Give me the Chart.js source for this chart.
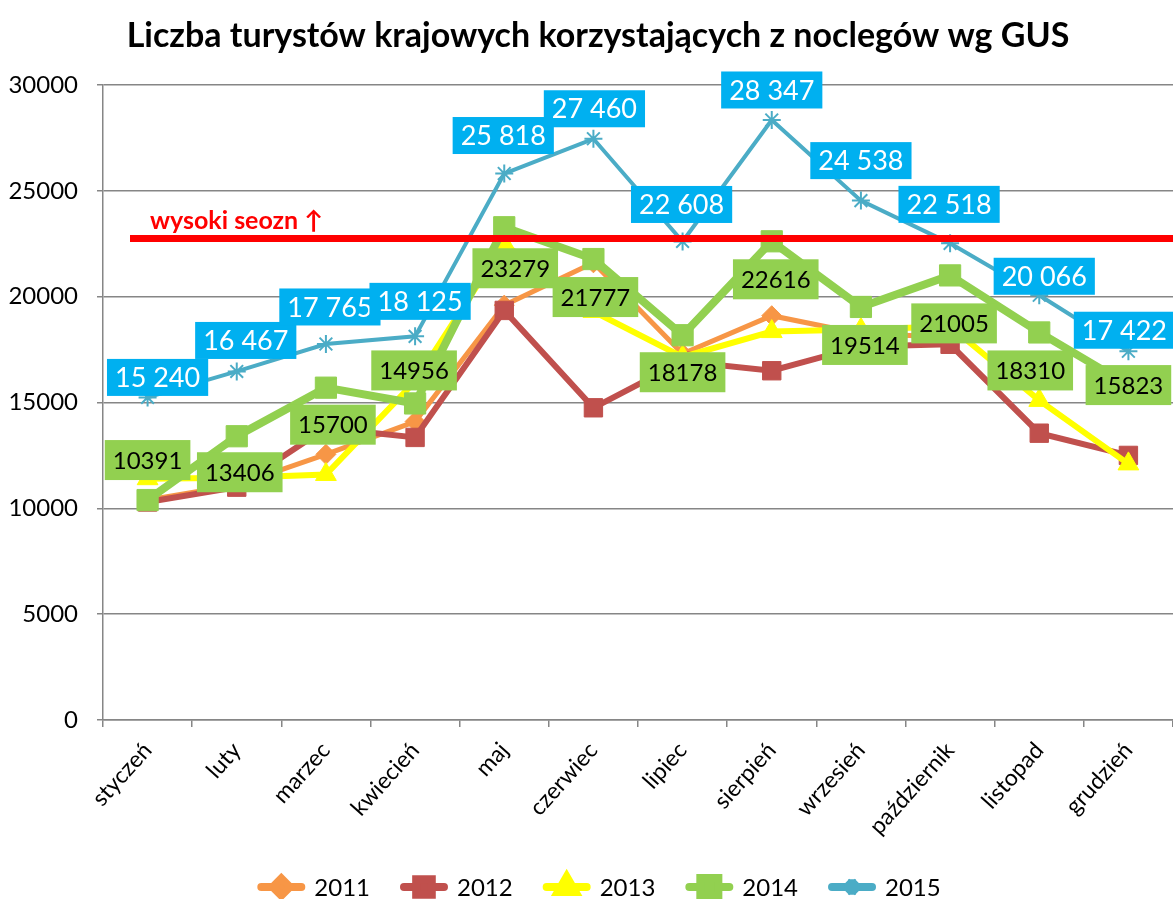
<!DOCTYPE html>
<html>
<head>
<meta charset="utf-8">
<script src="https://cdn.jsdelivr.net/npm/chart.js@4.4.1/dist/chart.umd.min.js"></script>
<style>
  html, body { margin: 0; padding: 0; background: #ffffff; overflow: hidden; }
  #wrap { width: 1173px; height: 899px; position: relative; }
  #c { display: block; }
</style>
</head>
<body>
<div id="wrap"><canvas id="c"></canvas></div>
<script>
// ---------- data ----------
const chartTitle = 'Liczba turystów krajowych korzystających z noclegów wg GUS';
const months = ['styczeń', 'luty', 'marzec', 'kwiecień', 'maj', 'czerwiec', 'lipiec', 'sierpień', 'wrzesień', 'październik', 'listopad', 'grudzień'];
const seriesNames = ['2011', '2012', '2013', '2014', '2015'];
const values2011 = [10400, 11100, 12550, 14100, 19600, 21600, 17300, 19100, 18250, 18100, null, null];
const values2012 = [10300, 11000, 13800, 13350, 19350, 14750, 16950, 16500, 17650, 17750, 13550, 12500];
const values2013 = [11400, 11450, 11600, 16000, 22500, 19300, 17150, 18350, 18450, 18600, 15100, 12100];
const values2014 = [10391, 13406, 15700, 14956, 23279, 21777, 18178, 22616, 19514, 21005, 18310, 15823];
const values2015 = [15240, 16467, 17765, 18125, 25818, 27460, 22608, 28347, 24538, 22518, 20066, 17422];
const yAxisTicks = [0, 5000, 10000, 15000, 20000, 25000, 30000];
const highSeasonThreshold = 22750;
const highSeasonLabel = 'wysoki seozn ↑';

// ---------- styling / label placement (pixels, not data) ----------
const FONT = 'Lato, "Open Sans", "DejaVu Sans", sans-serif';
const label2014Offsets = {
  dx: [0, 3, 7, -1, 11, 2, 0, 4, 4, 4, -9, 0],
  dy: [-40, 36, 37, -33, 41, 38, 37, 38, 38, 48, 38, 0]
};
const label2015Offsets = {
  dx: [10, 9, 4, 5, -1, 1, -1, 0, 0, -1, 5, -4],
  dy: [-20, -31, -37, -35, -38, -30, -37, -30, -40, -39, -19, -21]
};

function fmtSpaced(v) {
  return String(v).replace(/\B(?=(\d{3})+(?!\d))/g, ' ');
}

const titlePlugin = {
  id: 'customTitle',
  afterDraw(chart, args, opts) {
    const ctx = chart.ctx;
    ctx.save();
    ctx.font = 'bold 34px ' + FONT;
    ctx.fillStyle = '#000000';
    ctx.textAlign = 'center';
    ctx.textBaseline = 'middle';
    ctx.fillText(chartTitle, opts.x, opts.y);
    ctx.restore();
  }
};

const thresholdPlugin = {
  id: 'threshold',
  afterDatasetsDraw(chart) {
    const ctx = chart.ctx;
    const y = chart.scales.y.getPixelForValue(highSeasonThreshold);
    const a = chart.chartArea;
    ctx.save();
    ctx.strokeStyle = '#FF0000';
    ctx.lineWidth = 7;
    ctx.beginPath();
    ctx.moveTo(a.left + 27, y);
    ctx.lineTo(a.right, y);
    ctx.stroke();
    ctx.fillStyle = '#FF0000';
    ctx.font = 'bold 25px ' + FONT;
    ctx.textAlign = 'left';
    ctx.textBaseline = 'alphabetic';
    ctx.fillText(highSeasonLabel, a.left + 47, y - 9);
    ctx.restore();
  }
};

const boxLabelPlugin = {
  id: 'boxLabels',
  afterDatasetsDraw(chart, args, opts) {
    const ctx = chart.ctx;
    (opts.sets || []).forEach(cfg => {
      const meta = chart.getDatasetMeta(cfg.datasetIndex);
      const ds = chart.data.datasets[cfg.datasetIndex];
      ctx.save();
      ctx.font = cfg.font;
      ctx.textAlign = 'center';
      ctx.textBaseline = 'middle';
      meta.data.forEach((pt, i) => {
        const v = ds.data[i];
        if (v == null) return;
        const text = cfg.format(v);
        const w = ctx.measureText(text).width + 2 * cfg.padX;
        const h = cfg.height;
        const cx = pt.x + cfg.dx[i];
        const cy = pt.y + cfg.dy[i];
        ctx.fillStyle = cfg.bg;
        ctx.fillRect(cx - w / 2, cy - h / 2, w, h);
        ctx.fillStyle = cfg.color;
        ctx.fillText(text, cx, cy + 1);
      });
      ctx.restore();
    });
  }
};

const legendPlugin = {
  id: 'customLegend',
  afterDraw(chart, args, opts) {
    const ctx = chart.ctx;
    ctx.save();
    ctx.font = '24px ' + FONT;
    ctx.textBaseline = 'middle';
    ctx.textAlign = 'left';
    const lineLen = 48, gapText = 9, gapItem = 30;
    const dsets = chart.data.datasets;
    const widths = dsets.map(d => lineLen + gapText + ctx.measureText(d.label).width);
    const total = widths.reduce((s, w) => s + w, 0) + gapItem * (dsets.length - 1);
    let x = opts.centerX - total / 2;
    const y = opts.y;
    dsets.forEach((d, i) => {
      ctx.strokeStyle = d.borderColor;
      ctx.lineWidth = 8;
      ctx.lineCap = 'round';
      ctx.beginPath();
      ctx.moveTo(x + 4, y);
      ctx.lineTo(x + lineLen - 4, y);
      ctx.stroke();
      ctx.fillStyle = d.pointBackgroundColor;
      ctx.strokeStyle = d.pointBorderColor;
      ctx.lineCap = 'butt';
      Chart.helpers.drawPoint(ctx, {
        pointStyle: d.pointStyle,
        radius: d.pointRadius * 0.85,
        rotation: 0,
        borderWidth: d.pointBorderWidth
      }, x + lineLen / 2, y);
      ctx.fillStyle = '#000000';
      ctx.fillText(d.label, x + lineLen + gapText, y + 1);
      x += widths[i] + gapItem;
    });
    ctx.restore();
  }
};

function makeSet(label, data, color, style, radius, lineWidth, order, borderW) {
  return {
    label: label,
    data: data,
    borderColor: color,
    backgroundColor: color,
    borderWidth: lineWidth,
    pointStyle: style,
    pointRadius: radius,
    pointHoverRadius: radius,
    pointBackgroundColor: color,
    pointBorderColor: color,
    pointBorderWidth: borderW,
    tension: 0,
    spanGaps: false,
    clip: false,
    order: order
  };
}

const ctx = document.getElementById('c').getContext('2d');
new Chart(ctx, {
  type: 'line',
  data: {
    labels: months,
    datasets: [
      makeSet(seriesNames[0], values2011, '#F79646', 'rectRot', 10, 5, 4, 1),
      makeSet(seriesNames[1], values2012, '#C0504D', 'rect', 13, 6, 3, 1),
      makeSet(seriesNames[2], values2013, '#FFFF00', 'triangle', 12, 6, 2, 1),
      makeSet(seriesNames[3], values2014, '#92D050', 'rect', 15, 8, 1, 1),
      makeSet(seriesNames[4], values2015, '#4BACC6', 'star', 9, 4, 0, 2)
    ]
  },
  plugins: [titlePlugin, thresholdPlugin, boxLabelPlugin, legendPlugin],
  options: {
    responsive: true,
    maintainAspectRatio: false,
    animation: false,
    events: [],
    layout: { autoPadding: false, padding: { left: 0, right: 0, top: 85, bottom: 50 } },
    plugins: {
      legend: { display: false },
      tooltip: { enabled: false },
      title: { display: false },
      customTitle: { x: 598, y: 36 },
      boxLabels: {
        sets: [
          { datasetIndex: 3, font: '24px ' + FONT, bg: '#92D050', color: '#000000', padX: 8, height: 40,
            dx: label2014Offsets.dx, dy: label2014Offsets.dy, format: v => String(v) },
          { datasetIndex: 4, font: '27px ' + FONT, bg: '#00B0F0', color: '#FFFFFF', padX: 8, height: 37,
            dx: label2015Offsets.dx, dy: label2015Offsets.dy, format: fmtSpaced }
        ]
      },
      customLegend: { centerX: 599, y: 887 }
    },
    scales: {
      x: {
        offset: true,
        grid: { display: true, drawOnChartArea: false, drawTicks: true, tickLength: 7, color: '#868686', lineWidth: 1.5, offset: true },
        border: { display: true, color: '#868686', width: 1.5 },
        ticks: { color: '#000000', font: { family: FONT, size: 23 }, minRotation: 48, maxRotation: 48, padding: 10, autoSkip: false },
        afterFit(scale) { scale.height = 129; scale.paddingLeft = 0; scale.paddingRight = 0; }
      },
      y: {
        min: 0,
        max: 30000,
        afterBuildTicks(scale) { scale.ticks = yAxisTicks.map(v => ({ value: v })); },
        grid: { color: '#868686', lineWidth: 1.5, drawTicks: true, tickLength: 6 },
        border: { display: true, color: '#868686', width: 1.5 },
        ticks: { color: '#000000', font: { family: FONT, size: 24 }, padding: 19, callback: v => String(v) },
        afterFit(scale) { scale.width = 103; scale.paddingTop = 0; scale.paddingBottom = 0; }
      }
    }
  }
});
</script>
</body>
</html>
